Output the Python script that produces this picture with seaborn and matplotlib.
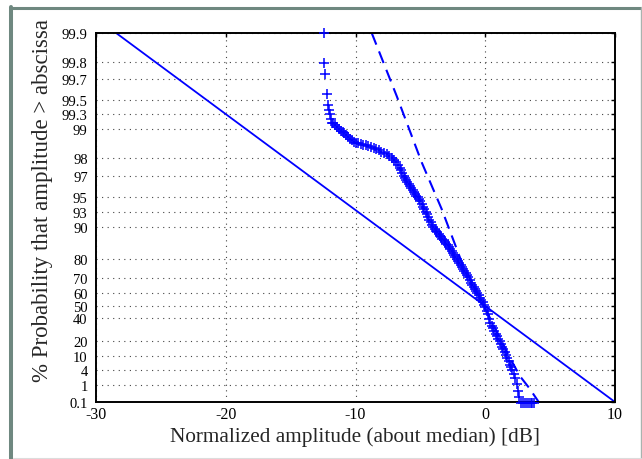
import numpy as np
import pandas as pd
import matplotlib
matplotlib.use("Agg")
import matplotlib.pyplot as plt
import seaborn as sns
from matplotlib.lines import Line2D

# measured amplitudes (dB about median) and % probability that amplitude > abscissa
meas_db = [
    -12.43, -12.40, -12.33, -12.20, -12.12, -12.04, -11.97, -11.89, -11.81,
    -11.75, -11.6, -11.45, -11.3, -11.15, -11.0, -10.85, -10.7, -10.55, -10.4,
    -10.25, -10.1, -9.95, -9.8, -9.6, -9.4, -9.2, -9.0, -8.8, -8.6, -8.4, -8.2,
    -8.0, -7.8, -7.6, -7.4, -7.2, -7.0, -6.85, -6.7,
    -6.6, -6.5, -6.4, -6.3, -6.2, -6.1, -6.0, -5.9, -5.8, -5.7, -5.6, -5.5,
    -5.4, -5.3, -5.2, -5.1, -5.0, -4.9, -4.8, -4.7, -4.6, -4.5, -4.4, -4.3,
    -4.2, -4.1, -4.0, -3.9, -3.8, -3.7, -3.6, -3.5, -3.4, -3.3, -3.2, -3.1,
    -3.0, -2.9, -2.8, -2.7, -2.6, -2.5, -2.4, -2.3, -2.2, -2.1, -2.0, -1.9,
    -1.8, -1.7, -1.6, -1.5, -1.4, -1.3, -1.2, -1.1, -1.0, -0.9, -0.8, -0.7,
    -0.6, -0.5, -0.4, -0.3, -0.2, -0.1, 0.0, 0.1, 0.2, 0.3, 0.4, 0.5, 0.6,
    0.7, 0.8, 0.9, 1.0, 1.1, 1.2, 1.3, 1.4, 1.5, 1.6, 1.7, 1.8, 1.9, 2.0,
    2.1, 2.2, 2.3, 2.42, 2.5, 2.6,
    2.75, 2.9, 3.05, 3.2, 3.35, 3.5, 3.62, 3.72,
]
meas_pct = [
    99.9, 99.795, 99.73, 99.57, 99.44, 99.37, 99.30, 99.22, 99.13,
    99.13, 99.09, 99.05, 99.01, 98.97, 98.94, 98.90, 98.86, 98.80, 98.74,
    98.70, 98.66, 98.63, 98.61, 98.58, 98.56, 98.53, 98.50, 98.47, 98.44, 98.40, 98.35,
    98.30, 98.25, 98.18, 98.10, 98.01, 97.92, 97.82, 97.65,
    97.5, 97.35, 97.2, 97.0, 96.85, 96.7, 96.5, 96.35, 96.2, 96.0, 95.8, 95.6,
    95.4, 95.2, 95.0, 94.8, 94.5, 94.1, 93.8, 93.4, 93.0, 92.6, 92.1, 91.6,
    91.1, 90.6, 90.0, 89.6, 89.2, 88.8, 88.4, 87.9, 87.5, 87.1, 86.7, 86.2,
    85.6, 85.0, 84.4, 83.8, 83.1, 82.3, 81.5, 80.7, 79.8, 79.0, 78.1, 77.1,
    76.1, 75.2, 74.2, 73.2, 72.0, 70.6, 69.0, 67.4, 65.8, 64.2, 62.8, 61.4,
    60.0, 58.6, 56.8, 55.0, 53.0, 51.0, 48.8, 46.0, 43.0, 39.0, 35.5, 33.0, 30.5,
    28.0, 25.8, 24.0, 21.8, 19.8, 17.8, 16.0, 14.2, 12.4, 10.6, 8.8, 7.3, 6.0, 4.9,
    3.9, 3.0, 2.0, 1.12, 0.5, 0.21,
    0.08, 0.08, 0.08, 0.08, 0.08, 0.08, 0.08, 0.08,
]

# Rayleigh reference (solid) and second reference curve (dashed)
rayleigh_db = [-28.45, 10.0]
rayleigh_pct = [99.9, 0.1]
ref_db = [-8.75, -6.83, -4.90, -3.36, -1.81, 2.16, 2.68, 3.39, 4.12]
ref_pct = [99.9, 99.55, 97.81, 93.44, 78.41, 6.2, 2.4, 0.71, 0.1]

yticks = [0.1, 1, 4, 10, 20, 40, 50, 60, 70, 80, 90, 93, 95, 97, 98, 99,
          99.3, 99.5, 99.7, 99.8, 99.9]
ytick_labels = ["0.1", "1", "4", "10", "20", "40", "50", "60", "70", "80", "90",
                "93", "95", "97", "98", "99", "99.3", "99.5", "99.7", "99.8", "99.9"]
xticks = [-30, -20, -10, 0, 10]


def fwd(p):
    p = np.clip(np.asarray(p, dtype=float), 1e-6, 100 - 1e-9)
    return -np.log10(-np.log(p / 100.0))


def inv(t):
    return 100.0 * np.exp(-10.0 ** (-np.asarray(t, dtype=float)))


sns.set_style("white")
plt.rcParams['font.family'] = ['Liberation Serif', 'DejaVu Serif']
plt.rcParams['axes.unicode_minus'] = False

fig = plt.figure(figsize=(6.42, 4.60), dpi=100)
ax = fig.add_axes([96 / 642, 57 / 460, 519 / 642, 369 / 460])

blue = "#0000ff"
sns.lineplot(x=rayleigh_db, y=rayleigh_pct, color=blue, lw=1.3, sort=False,
             estimator=None, ax=ax)
sns.lineplot(x=ref_db, y=ref_pct, color=blue, lw=1.5, sort=False, estimator=None,
             linestyle=(0, (6, 3.5)), ax=ax)
sns.scatterplot(x=meas_db, y=meas_pct, marker="+", color=blue, s=42, linewidth=1.1,
                clip_on=False, zorder=3, ax=ax)

ax.set_yscale("function", functions=(fwd, inv))
ax.set_ylim(0.1, 99.9)
ax.set_xlim(-30, 10)
ax.set_yticks(yticks)
ax.set_yticklabels(ytick_labels)
ax.set_xticks(xticks)
ax.set_xticklabels([str(v) for v in xticks])
ax.yaxis.set_minor_locator(matplotlib.ticker.NullLocator())

ax.grid(True, linestyle=(0, (1, 4)), color="#444444", linewidth=0.8)
for s in ax.spines.values():
    s.set_visible(True)
    s.set_linewidth(1.4)
    s.set_color("black")
ax.tick_params(direction="in", top=True, right=True, length=3, width=1,
               colors="black")
ax.tick_params(axis="y", pad=6, labelsize=10.5)
ax.tick_params(axis="x", pad=3, labelsize=11.5)

ax.set_xlabel("Normalized amplitude (about median) [dB]", fontsize=15.3)
ax.set_ylabel("% Probability that amplitude > abscissa", fontsize=16.5)
ax.xaxis.set_label_coords(0.5, -0.065)
ax.yaxis.set_label_coords(-0.083, 0.55)

# frame around the picture
frame = "#6f8880"
fig.add_artist(Line2D([9.5 / 642, 641 / 642], [1 - 8.7 / 460] * 2, color=frame,
                      lw=2.2, transform=fig.transFigure))
fig.add_artist(Line2D([11.3 / 642] * 2, [1 - 7.5 / 460, 0], color=frame,
                      lw=2.9, transform=fig.transFigure))
fig.add_artist(Line2D([640.8 / 642] * 2, [1 - 8 / 460, 0], color="#a9b3af",
                      lw=1.0, transform=fig.transFigure))
fig.add_artist(Line2D([13 / 642, 641 / 642], [1 - 458.5 / 460] * 2, color="#dcdcdc",
                      lw=0.8, transform=fig.transFigure))

fig.savefig("out.png", dpi=100)
